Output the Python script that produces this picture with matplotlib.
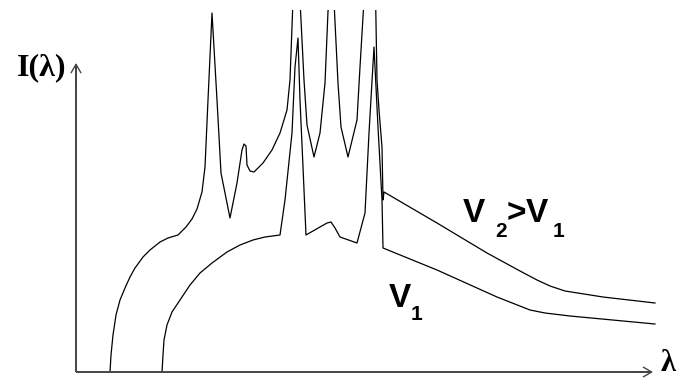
import matplotlib
matplotlib.use("Agg")
import matplotlib.pyplot as plt

# Schematic X-ray spectrum: intensity vs wavelength (arbitrary units)
v2_lam = [34, 35, 37, 40, 44, 49, 54, 59, 67, 74, 84, 92, 102, 110, 116, 121, 126, 129, 132, 136,
          141, 145, 154, 161, 166, 168, 170, 171, 174, 178, 187, 196, 204, 211, 214, 220,
          228, 231, 238, 244, 249, 255, 262, 265, 272, 281, 284, 297, 301, 303, 306, 307,
          308, 361, 411, 444, 461, 474, 489, 527, 579]
v2_int = [0, 17, 37, 57, 72, 84, 95, 104, 115, 122, 130, 134, 137, 145, 153, 163, 180, 205, 272, 359,
          272, 199, 154, 189, 222, 228, 226, 207, 201, 200, 209, 222, 239, 262, 292, 452,
          292, 247, 215, 239, 289, 432, 289, 245, 215, 252, 305, 522, 292, 262, 225, 172,
          180, 149, 119, 101, 92, 86, 81, 75, 69]

v1_lam = [86, 87, 88, 91, 96, 104, 114, 124, 136, 151, 164, 177, 189, 204, 209, 216, 219,
          222, 224, 227, 230, 251, 255, 259, 264, 281, 289, 293, 298, 302, 306, 307, 361,
          421, 454, 469, 494, 579]
v1_int = [0, 17, 32, 47, 60, 72, 87, 99, 109, 120, 127, 132, 135, 137, 172, 239, 305,
          334, 272, 205, 137, 149, 150, 144, 135, 129, 159, 239, 325, 245, 172, 124, 102,
          75, 62, 59, 56, 48]

x_axis_end = 577
y_axis_end = 309

fig = plt.figure(figsize=(6.83, 3.78), dpi=100)
ax = fig.add_axes([0, 0, 1, 368 / 378])
ax.set_xlim(-76, 607)
ax.set_ylim(-6, 362)
ax.axis("off")

ax.plot(v2_lam, v2_int, color="black", lw=0.9, solid_joinstyle="round")
ax.plot(v1_lam, v1_int, color="black", lw=0.9, solid_joinstyle="round")

axis_col = "#454545"
ax.plot([0, 0], [0, y_axis_end - 2], color=axis_col, lw=1.4, solid_capstyle="butt")
ax.plot([0, x_axis_end - 2], [0, 0], color=axis_col, lw=1.4, solid_capstyle="butt")
arrow = dict(arrowstyle="->,head_length=0.6,head_width=0.35", color=axis_col, lw=1.0,
             shrinkA=0, shrinkB=0)
ax.annotate("", xy=(0, y_axis_end), xytext=(0, y_axis_end - 20), arrowprops=arrow,
            annotation_clip=False)
ax.annotate("", xy=(x_axis_end, 0), xytext=(x_axis_end - 20, 0), arrowprops=arrow,
            annotation_clip=False)

serif = ["Liberation Serif", "DejaVu Serif"]
sans = ["Liberation Sans", "DejaVu Sans"]
ax.text(-34, 297, "I(λ)", family=serif, weight="bold", fontsize=23, ha="center",
        va="baseline", clip_on=False)
ax.text(592, 1, "λ", family=serif, weight="bold", fontsize=22, ha="center",
        va="baseline", clip_on=False)

big = 24
small = 15
ax.text(397.5, 150, "V", family=sans, weight="bold", fontsize=big, ha="center", va="baseline")
ax.text(425, 135, "2", family=sans, weight="bold", fontsize=small, ha="center", va="baseline")
ax.text(440, 150, ">", family=sans, weight="bold", fontsize=big, ha="center", va="baseline")
ax.text(460.5, 150, "V", family=sans, weight="bold", fontsize=big, ha="center", va="baseline")
ax.text(483, 135, "1", family=sans, weight="bold", fontsize=small, ha="center", va="baseline")

ax.text(324, 65, "V", family=sans, weight="bold", fontsize=big, ha="center", va="baseline")
ax.text(340, 52, "1", family=sans, weight="bold", fontsize=small, ha="center", va="baseline")

fig.savefig("out.png", dpi=100, facecolor="white")
